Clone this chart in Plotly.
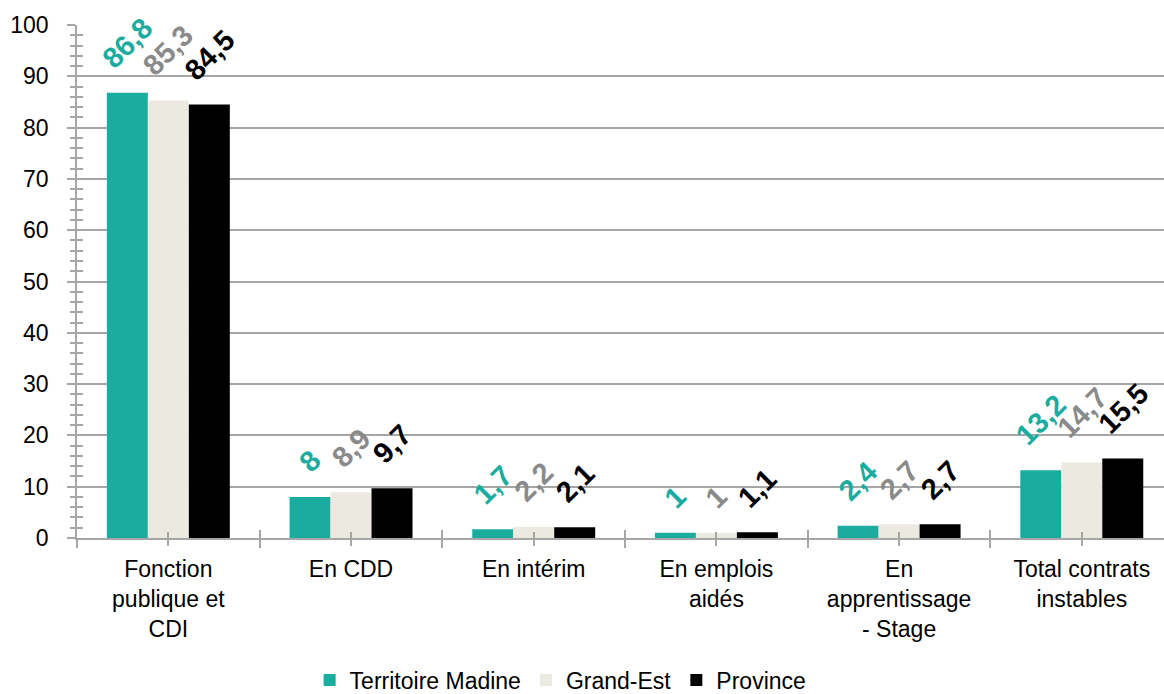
import plotly.graph_objects as go

# Categories and series (percent of employed population by contract type)
categories = [
    "Fonction<br>publique et<br>CDI",
    "En CDD",
    "En intérim",
    "En emplois<br>aidés",
    "En<br>apprentissage<br>- Stage",
    "Total contrats<br>instables",
]
series_names = ["Territoire Madine", "Grand-Est", "Province"]
territoire_madine = [86.8, 8.0, 1.7, 1.0, 2.4, 13.2]
grand_est = [85.3, 8.9, 2.2, 1.0, 2.7, 14.7]
province = [84.5, 9.7, 2.1, 1.1, 2.7, 15.5]
y_ticks = list(range(0, 101, 10))

series_values = [territoire_madine, grand_est, province]
bar_colors = ["#19AC9F", "#ECEAE0", "#000000"]
label_colors = ["#19AC9F", "#8A8A8A", "#000000"]

FONT = "Liberation Sans"
AXIS_GREY = "#A6A6A6"
BARGAP = 0.327

x_pos = list(range(len(categories)))


def fmt(v):
    return f"{v:g}".replace(".", ",")


fig = go.Figure()
for name, vals, col in zip(series_names, series_values, bar_colors):
    fig.add_trace(go.Bar(
        name=name, x=x_pos, y=vals, marker=dict(color=col, line=dict(width=0)),
        hoverinfo="skip",
    ))

# invisible helper trace so the overlay axes (inner tick halves) get drawn
fig.add_trace(go.Scatter(x=[0], y=[0], xaxis="x2", yaxis="y2", mode="markers",
                         marker=dict(opacity=0), showlegend=False, hoverinfo="skip"))

# rotated value labels above each bar
bar_w = (1 - BARGAP) / len(series_names)
annotations = []
for k, (vals, col) in enumerate(zip(series_values, label_colors)):
    offset = (k - (len(series_names) - 1) / 2) * bar_w
    for i, v in enumerate(vals):
        annotations.append(dict(
            x=i + offset, y=v, xref="x", yref="y", text=fmt(v),
            showarrow=False, textangle=-45, xanchor="center", yanchor="bottom",
            yshift=16, font=dict(family=FONT, size=29, color=col, weight="bold"),
        ))

fig.update_layout(
    width=1164, height=694,
    margin=dict(l=77, r=0, t=25, b=156),
    paper_bgcolor="white", plot_bgcolor="white",
    barmode="group", bargap=BARGAP, bargroupgap=0,
    font=dict(family=FONT, size=23, color="#000000"),
    annotations=annotations,
    xaxis=dict(
        range=[-0.5, 5.45], tickmode="array", tickvals=x_pos, ticktext=categories,
        ticks="outside", ticklen=6, tickwidth=1.5, tickcolor=AXIS_GREY,
        minor=dict(tickmode="linear", tick0=0.5, dtick=1, ticks="outside",
                   ticklen=8, tickwidth=1.5, tickcolor=AXIS_GREY),
        showline=True, linecolor=AXIS_GREY, linewidth=1.5,
        showgrid=False, zeroline=False, ticklabelstandoff=4,
        tickfont=dict(family=FONT, size=23, color="#000000"),
    ),
    yaxis=dict(
        range=[0, 100], tickmode="array", tickvals=y_ticks,
        ticks="outside", ticklen=8, tickwidth=1.5, tickcolor=AXIS_GREY,
        minor=dict(tickmode="linear", tick0=0, dtick=2, ticks="outside",
                   ticklen=5, tickwidth=1.5, tickcolor=AXIS_GREY),
        showline=True, linecolor=AXIS_GREY, linewidth=1.5,
        showgrid=True, gridcolor=AXIS_GREY, gridwidth=1.5,
        zeroline=False, ticklabelstandoff=14,
        tickfont=dict(family=FONT, size=23, color="#000000"),
    ),
    xaxis2=dict(
        overlaying="x", anchor="y", range=[-0.5, 5.45], tickmode="array",
        tickvals=x_pos, ticks="inside", ticklen=6, tickwidth=1.5, tickcolor=AXIS_GREY,
        minor=dict(tickmode="linear", tick0=0.5, dtick=1, ticks="inside",
                   ticklen=8, tickwidth=1.5, tickcolor=AXIS_GREY),
        showticklabels=False, showgrid=False, zeroline=False, showline=False,
    ),
    yaxis2=dict(
        overlaying="y", anchor="x", range=[0, 100], tickmode="array",
        tickvals=y_ticks, ticks="inside", ticklen=6, tickwidth=1.5,
        tickcolor=AXIS_GREY, showticklabels=False,
        minor=dict(tickmode="linear", tick0=0, dtick=2, ticks="inside",
                   ticklen=6, tickwidth=1.5, tickcolor=AXIS_GREY),
        showgrid=False, zeroline=False, showline=False,
    ),
    legend=dict(
        orientation="h", xref="container", yref="container",
        x=0.266, xanchor="left", y=0.02, yanchor="middle",
        font=dict(family=FONT, size=23, color="#000000"), itemwidth=30,
        traceorder="normal", bgcolor="rgba(0,0,0,0)",
    ),
    showlegend=True,
)

fig.write_html("out.html")
